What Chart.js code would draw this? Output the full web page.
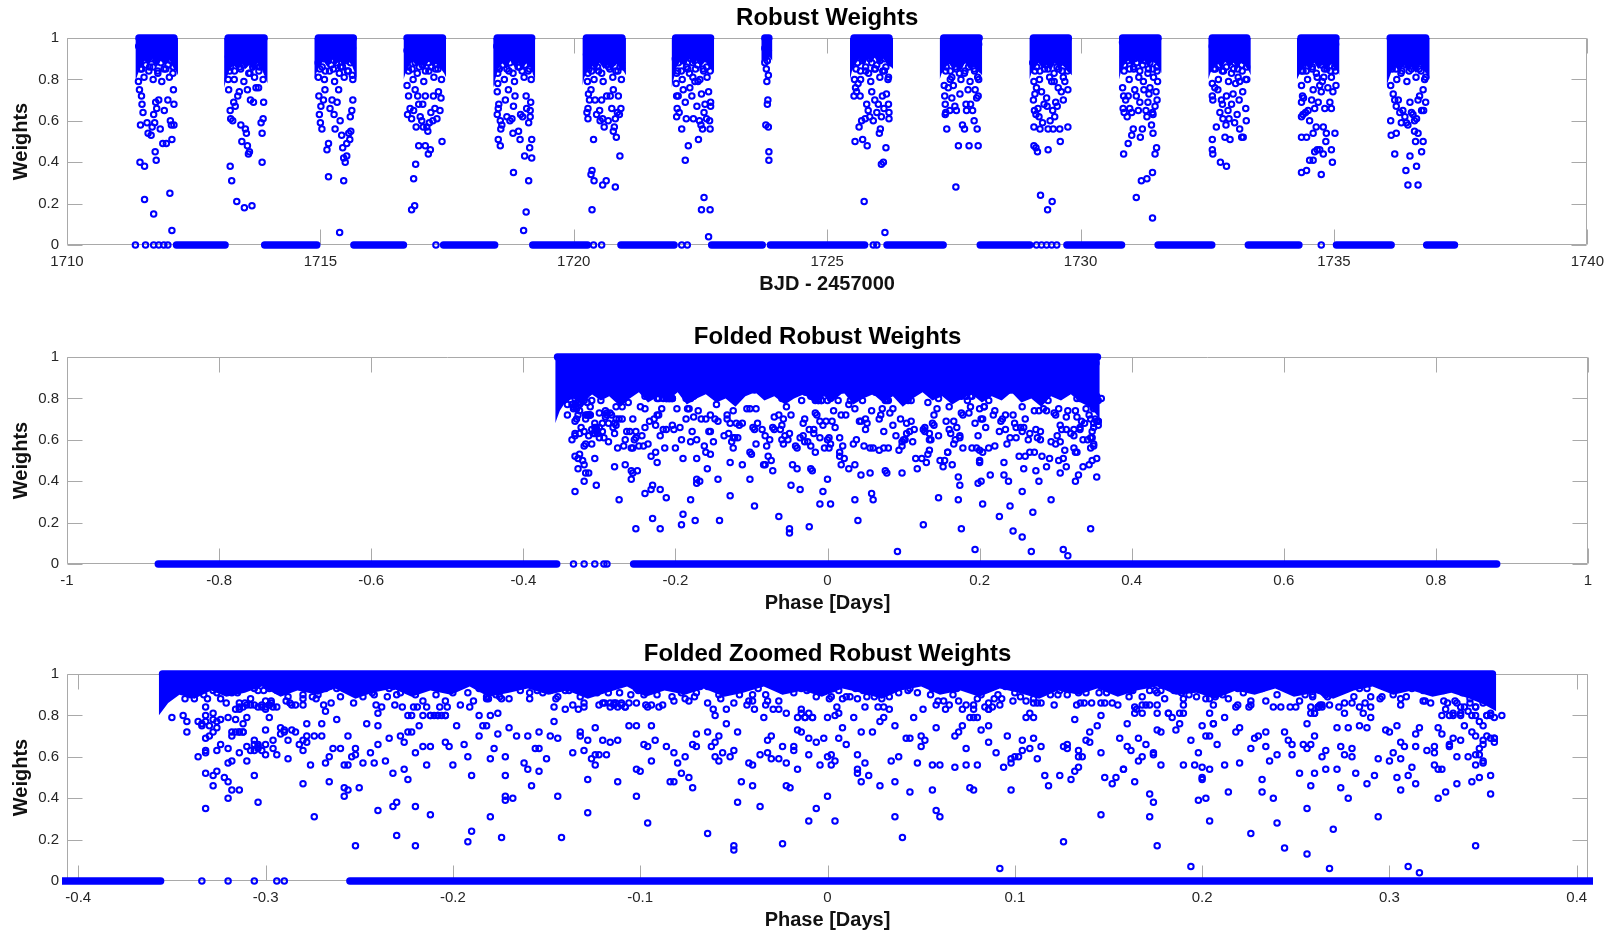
<!DOCTYPE html>
<html><head><meta charset="utf-8">
<script src="https://cdn.jsdelivr.net/npm/chart.js@4/dist/chart.umd.min.js"></script>
<style>
html,body{margin:0;padding:0;background:#fff;overflow:hidden;width:1612px;height:935px}
canvas{position:absolute;left:0}
</style></head><body>
<canvas id="c1" width="1612" height="299" style="top:0px"></canvas>
<canvas id="c2" width="1612" height="299" style="top:319px"></canvas>
<canvas id="c3" width="1612" height="299" style="top:636px"></canvas>
<script>
// ---------- DATA ----------
// Robust weights per transit window: [BJD-2457000, weight]
const k00 = [[1711.415,.96],[1711.436,.88],[1711.454,.93],[1711.476,.85],[1711.495,.98],[1711.517,.91],[1711.534,.95],[1711.556,.87],[1711.575,.97],[1711.596,.92],[1711.614,.84],[1711.637,.96],[1711.655,.90],[1711.674,.94],[1711.696,.86],[1711.713,.98],[1711.736,.92],[1711.754,.89],[1711.776,.96],[1711.793,.83],[1711.816,.93],[1711.835,.97],[1711.853,.88],[1711.876,.94],[1711.894,.91],[1711.915,.85],[1711.936,.97],[1711.953,.90],[1711.975,.95],[1711.994,.87],[1712.016,.93],[1712.034,.98],[1712.056,.89],[1712.074,.94],[1712.096,.86],
[1711.45,.85],[1711.52,.81],[1711.63,.86],[1711.70,.80],[1711.79,.84],[1711.87,.79],[1711.95,.85],[1712.02,.81],[1712.09,.83],
[1711.41,.79],[1711.43,.75],[1711.47,.72],[1711.48,.68],[1711.50,.64],[1711.45,.58],[1711.58,.59],[1711.60,.54],[1711.66,.53],[1711.68,.57],[1711.71,.63],[1711.73,.59],[1711.75,.69],[1711.77,.66],[1711.81,.70],[1711.84,.56],[1711.89,.49],[1711.92,.65],[1711.96,.49],[1711.99,.70],[1712.04,.60],[1712.06,.58],[1712.07,.51],[1712.10,.75],[1712.11,.68],[1712.11,.58],[1711.44,.40],[1711.53,.38],[1711.53,.22],[1711.71,.15],[1711.74,.45],[1711.76,.41],[1712.03,.25],[1712.07,.07]];
const k01 = [[1713.186,.91],[1713.205,.97],[1713.227,.86],[1713.246,.94],[1713.264,.89],[1713.287,.98],[1713.305,.84],[1713.324,.93],[1713.347,.96],[1713.365,.88],[1713.386,.92],[1713.404,.97],[1713.427,.85],[1713.445,.95],[1713.466,.90],[1713.484,.87],[1713.506,.98],[1713.527,.93],[1713.545,.89],[1713.564,.96],[1713.587,.83],[1713.605,.94],[1713.624,.91],[1713.646,.97],[1713.665,.86],[1713.687,.92],[1713.704,.95],[1713.726,.88],[1713.745,.98],[1713.764,.90],[1713.786,.84],[1713.805,.96],[1713.825,.93],[1713.843,.87],[1713.866,.97],
[1713.21,.84],[1713.30,.80],[1713.41,.86],[1713.49,.79],[1713.61,.83],[1713.70,.81],[1713.80,.86],[1713.87,.80],
[1713.18,.80],[1713.19,.75],[1713.22,.65],[1713.23,.61],[1713.27,.60],[1713.29,.69],[1713.32,.67],[1713.37,.72],[1713.40,.74],[1713.43,.58],[1713.45,.50],[1713.52,.56],[1713.54,.54],[1713.56,.48],[1713.58,.44],[1713.60,.45],[1713.56,.75],[1713.62,.70],[1713.68,.69],[1713.73,.76],[1713.78,.76],[1713.83,.59],[1713.87,.61],[1713.88,.69],[1713.85,.40],[1713.85,.54],[1713.22,.38],[1713.25,.31],[1713.35,.21],[1713.50,.18],[1713.65,.19]];
const k02 = [[1714.957,.88],[1714.978,.95],[1714.996,.92],[1715.017,.98],[1715.035,.86],[1715.058,.90],[1715.076,.97],[1715.097,.84],[1715.115,.93],[1715.138,.96],[1715.156,.89],[1715.177,.91],[1715.196,.98],[1715.214,.87],[1715.237,.94],[1715.255,.85],[1715.276,.96],[1715.294,.92],[1715.317,.88],[1715.336,.97],[1715.355,.90],[1715.374,.83],[1715.397,.95],[1715.415,.93],[1715.436,.86],[1715.454,.98],[1715.477,.91],[1715.495,.89],[1715.516,.96],[1715.535,.84],[1715.557,.94],[1715.576,.97],[1715.594,.88],[1715.617,.92],[1715.635,.95],
[1714.99,.85],[1715.08,.80],[1715.18,.84],[1715.28,.79],[1715.40,.86],[1715.47,.81],[1715.55,.84],[1715.63,.82],
[1714.96,.81],[1714.97,.72],[1714.98,.63],[1715.00,.59],[1715.01,.67],[1715.03,.56],[1715.06,.70],[1715.09,.75],[1715.13,.46],[1715.16,.49],[1715.16,.33],[1715.19,.66],[1715.23,.70],[1715.27,.63],[1715.29,.56],[1715.33,.69],[1715.36,.75],[1715.39,.60],[1715.42,.53],[1715.44,.47],[1715.46,.42],[1715.49,.40],[1715.52,.43],[1715.52,.49],[1715.56,.54],[1715.58,.51],[1715.60,.55],[1715.62,.65],[1715.64,.70],[1715.64,.80],[1715.46,.31],[1715.38,.06],[1715.59,.62]];
const k03 = [[1716.710,.94],[1716.731,.86],[1716.749,.98],[1716.772,.90],[1716.790,.93],[1716.811,.85],[1716.829,.96],[1716.852,.91],[1716.870,.88],[1716.889,.97],[1716.912,.83],[1716.930,.95],[1716.951,.92],[1716.969,.89],[1716.992,.98],[1717.010,.87],[1717.031,.93],[1717.049,.96],[1717.072,.84],[1717.090,.91],[1717.109,.97],[1717.132,.88],[1717.150,.94],[1717.171,.90],[1717.189,.86],[1717.212,.98],[1717.230,.92],[1717.249,.95],[1717.271,.85],[1717.290,.97],[1717.311,.89],[1717.329,.93],[1717.352,.96],[1717.370,.87],[1717.391,.91],
[1716.74,.84],[1716.83,.80],[1716.95,.86],[1717.04,.79],[1717.14,.84],[1717.24,.81],[1717.32,.85],[1717.39,.80],
[1716.71,.77],[1716.74,.72],[1716.77,.66],[1716.72,.63],[1716.80,.61],[1716.84,.65],[1716.87,.75],[1716.89,.57],[1716.92,.72],[1716.94,.68],[1716.97,.62],[1717.00,.60],[1717.02,.68],[1717.03,.57],[1717.07,.72],[1717.10,.57],[1717.12,.55],[1717.15,.59],[1717.18,.64],[1717.22,.60],[1717.23,.72],[1717.26,.66],[1717.30,.61],[1717.33,.74],[1717.36,.65],[1717.38,.71],[1717.40,.50],[1716.94,.48],[1717.07,.48],[1717.17,.46],[1717.13,.44],[1716.88,.39],[1716.84,.32],[1716.80,.17],[1716.86,.19]];
const k04 = [[1718.481,.96],[1718.502,.86],[1718.520,.94],[1718.541,.89],[1718.559,.98],[1718.582,.93],[1718.600,.87],[1718.621,.95],[1718.639,.90],[1718.662,.97],[1718.680,.85],[1718.699,.91],[1718.722,.94],[1718.740,.88],[1718.761,.97],[1718.779,.93],[1718.802,.83],[1718.820,.96],[1718.841,.89],[1718.859,.92],[1718.880,.98],[1718.902,.86],[1718.920,.94],[1718.939,.90],[1718.962,.96],[1718.980,.84],[1719.001,.92],[1719.019,.97],[1719.042,.87],[1719.060,.95],[1719.081,.91],[1719.099,.98],[1719.122,.85],[1719.140,.93],[1719.159,.88],
[1718.53,.85],[1718.63,.80],[1718.72,.84],[1718.83,.79],[1718.93,.86],[1719.02,.81],[1719.10,.84],[1719.16,.80],
[1718.50,.83],[1718.50,.78],[1718.49,.74],[1718.51,.66],[1718.49,.63],[1718.52,.68],[1718.55,.60],[1718.56,.56],[1718.58,.58],[1718.51,.51],[1718.55,.48],[1718.65,.70],[1718.68,.62],[1718.71,.75],[1718.74,.60],[1718.78,.61],[1718.80,.54],[1718.81,.67],[1718.84,.72],[1718.91,.55],[1718.94,.51],[1718.95,.63],[1718.99,.62],[1719.03,.43],[1719.06,.72],[1719.07,.66],[1719.11,.59],[1719.13,.47],[1719.14,.62],[1719.15,.69],[1719.17,.51],[1719.17,.42],[1718.81,.35],[1719.11,.31],[1719.06,.16],[1719.01,.07],[1719.14,.65]];
const k05 = [[1720.252,.92],[1720.273,.97],[1720.291,.87],[1720.312,.93],[1720.330,.96],[1720.353,.84],[1720.371,.90],[1720.392,.98],[1720.410,.88],[1720.431,.95],[1720.452,.92],[1720.470,.86],[1720.491,.97],[1720.510,.91],[1720.533,.94],[1720.551,.83],[1720.572,.96],[1720.590,.89],[1720.611,.93],[1720.632,.98],[1720.650,.87],[1720.671,.90],[1720.690,.95],[1720.713,.85],[1720.731,.97],[1720.752,.92],[1720.770,.88],[1720.791,.96],[1720.812,.93],[1720.830,.84],[1720.851,.98],[1720.870,.89],[1720.893,.94],[1720.911,.86],[1720.932,.97],
[1720.30,.85],[1720.40,.80],[1720.49,.84],[1720.58,.79],[1720.69,.86],[1720.77,.81],[1720.87,.84],[1720.94,.80],
[1720.28,.83],[1720.27,.79],[1720.29,.73],[1720.31,.70],[1720.28,.66],[1720.26,.64],[1720.28,.61],[1720.34,.75],[1720.39,.51],[1720.42,.70],[1720.45,.63],[1720.51,.65],[1720.52,.60],[1720.55,.70],[1720.57,.61],[1720.60,.57],[1720.65,.72],[1720.68,.60],[1720.72,.72],[1720.75,.66],[1720.78,.55],[1720.80,.57],[1720.82,.61],[1720.84,.52],[1720.86,.64],[1720.88,.72],[1720.90,.63],[1720.93,.66],[1720.91,.43],[1720.36,.36],[1720.34,.34],[1720.40,.31],[1720.57,.29],[1720.64,.31],[1720.82,.28],[1720.36,.17],[1720.78,.75]];
const k06 = [[1722.004,.90],[1722.025,.95],[1722.043,.92],[1722.064,.88],[1722.082,.97],[1722.105,.94],[1722.123,.84],[1722.144,.96],[1722.162,.89],[1722.185,.91],[1722.203,.98],[1722.224,.86],[1722.242,.93],[1722.265,.95],[1722.283,.83],[1722.304,.90],[1722.322,.97],[1722.345,.88],[1722.363,.92],[1722.384,.96],[1722.402,.85],[1722.425,.94],[1722.443,.87],[1722.464,.98],[1722.482,.91],[1722.505,.89],[1722.523,.96],[1722.544,.93],[1722.562,.84],[1722.585,.97],[1722.603,.90],[1722.624,.86],[1722.642,.98],[1722.665,.92],[1722.683,.95],
[1722.05,.84],[1722.14,.80],[1722.25,.85],[1722.35,.81],[1722.45,.79],[1722.55,.85],[1722.63,.81],[1722.69,.84],
[1722.03,.83],[1722.02,.78],[1722.03,.72],[1722.04,.66],[1722.03,.62],[1722.06,.72],[1722.08,.64],[1722.13,.56],[1722.16,.75],[1722.20,.69],[1722.22,.61],[1722.26,.48],[1722.29,.76],[1722.33,.72],[1722.36,.61],[1722.39,.79],[1722.43,.67],[1722.46,.51],[1722.48,.60],[1722.49,.80],[1722.51,.58],[1722.52,.73],[1722.54,.56],[1722.57,.64],[1722.59,.68],[1722.62,.61],[1722.66,.74],[1722.68,.60],[1722.69,.56],[1722.70,.67],[1722.70,.69],[1722.20,.41],[1722.57,.23],[1722.52,.17],[1722.69,.17],[1722.66,.04]];
const k07 = [[1723.79,.99],[1723.81,.97],[1723.77,.95],[1723.84,.94],[1723.81,.93],[1723.79,.91],[1723.82,.89],[1723.77,.88],[1723.80,.85],[1723.84,.82],[1723.81,.79],[1723.83,.70],[1723.82,.68],[1723.79,.58],[1723.84,.57],[1723.85,.45],[1723.85,.41]];
const k08 = [[1725.539,.90],[1725.560,.95],[1725.578,.92],[1725.599,.88],[1725.617,.97],[1725.640,.94],[1725.658,.84],[1725.679,.96],[1725.697,.89],[1725.720,.91],[1725.738,.98],[1725.759,.86],[1725.777,.93],[1725.800,.95],[1725.818,.83],[1725.839,.90],[1725.857,.97],[1725.880,.88],[1725.898,.92],[1725.919,.96],[1725.937,.85],[1725.960,.94],[1725.978,.87],[1725.999,.98],[1726.017,.91],[1726.040,.89],[1726.058,.96],[1726.079,.93],[1726.097,.84],[1726.120,.97],[1726.138,.90],[1726.159,.86],[1726.177,.98],[1726.200,.92],[1726.218,.95],
[1725.57,.85],[1725.66,.80],[1725.76,.84],[1725.86,.79],[1725.95,.85],[1726.04,.81],[1726.13,.84],[1726.20,.80],
[1725.54,.80],[1725.53,.72],[1725.56,.76],[1725.58,.74],[1725.61,.78],[1725.65,.72],[1725.68,.60],[1725.63,.57],[1725.55,.50],[1725.70,.51],[1725.79,.48],[1725.75,.61],[1725.78,.68],[1725.81,.65],[1725.84,.62],[1725.88,.74],[1725.91,.60],[1725.94,.70],[1725.98,.64],[1726.01,.68],[1726.03,.54],[1726.05,.56],[1726.07,.62],[1726.09,.72],[1726.12,.66],[1726.16,.47],[1726.17,.73],[1726.21,.68],[1726.22,.64],[1726.22,.61],[1726.21,.81],[1726.07,.39],[1726.11,.40],[1725.73,.21],[1726.14,.06]];
const k09 = [[1727.310,.91],[1727.331,.97],[1727.349,.86],[1727.370,.94],[1727.388,.89],[1727.411,.98],[1727.429,.84],[1727.450,.93],[1727.468,.96],[1727.491,.88],[1727.509,.92],[1727.530,.97],[1727.548,.85],[1727.571,.95],[1727.589,.90],[1727.610,.87],[1727.628,.98],[1727.651,.93],[1727.669,.89],[1727.690,.96],[1727.708,.83],[1727.731,.94],[1727.749,.91],[1727.770,.97],[1727.788,.86],[1727.811,.92],[1727.829,.95],[1727.850,.88],[1727.868,.98],[1727.891,.90],[1727.909,.84],[1727.930,.96],[1727.948,.93],[1727.971,.87],[1727.989,.97],
[1727.34,.84],[1727.43,.80],[1727.53,.86],[1727.64,.80],[1727.72,.84],[1727.82,.79],[1727.90,.85],[1727.97,.81],
[1727.31,.77],[1727.32,.72],[1727.33,.68],[1727.34,.64],[1727.33,.63],[1727.36,.56],[1727.39,.76],[1727.42,.65],[1727.46,.71],[1727.49,.77],[1727.52,.67],[1727.55,.65],[1727.54,.28],[1727.59,.48],[1727.62,.73],[1727.67,.58],[1727.71,.56],[1727.74,.68],[1727.75,.65],[1727.78,.75],[1727.80,.48],[1727.83,.68],[1727.87,.65],[1727.90,.60],[1727.92,.75],[1727.95,.71],[1727.96,.56],[1727.98,.72],[1727.98,.48],[1727.99,.80],[1727.61,.83],[1727.46,.81]];
const k10 = [[1729.057,.88],[1729.078,.95],[1729.096,.92],[1729.117,.98],[1729.135,.86],[1729.158,.90],[1729.176,.97],[1729.197,.84],[1729.215,.93],[1729.238,.96],[1729.256,.89],[1729.277,.91],[1729.295,.98],[1729.318,.87],[1729.336,.94],[1729.357,.85],[1729.375,.96],[1729.398,.92],[1729.416,.88],[1729.437,.97],[1729.455,.90],[1729.478,.83],[1729.496,.95],[1729.517,.93],[1729.535,.86],[1729.558,.98],[1729.576,.91],[1729.597,.89],[1729.615,.96],[1729.638,.84],[1729.656,.94],[1729.677,.97],[1729.695,.88],[1729.718,.92],[1729.736,.95],
[1729.10,.84],[1729.19,.80],[1729.29,.85],[1729.39,.81],[1729.48,.79],[1729.57,.85],[1729.66,.81],[1729.74,.84],
[1729.08,.79],[1729.07,.70],[1729.10,.73],[1729.13,.76],[1729.09,.65],[1729.12,.63],[1729.16,.66],[1729.08,.57],[1729.18,.62],[1729.20,.56],[1729.23,.74],[1729.25,.59],[1729.28,.68],[1729.33,.71],[1729.34,.67],[1729.36,.56],[1729.40,.60],[1729.43,.79],[1729.45,.65],[1729.46,.56],[1729.49,.62],[1729.51,.69],[1729.54,.67],[1729.56,.76],[1729.59,.56],[1729.60,.50],[1729.62,.74],[1729.66,.70],[1729.69,.79],[1729.75,.57],[1729.75,.75],[1729.08,.48],[1729.12,.47],[1729.15,.45],[1729.36,.46],[1729.21,.24],[1729.35,.17],[1729.44,.21]];
const k11 = [[1730.828,.98],[1730.849,.91],[1730.867,.87],[1730.888,.96],[1730.906,.93],[1730.929,.89],[1730.947,.97],[1730.968,.85],[1730.986,.95],[1731.009,.92],[1731.027,.98],[1731.048,.86],[1731.066,.90],[1731.089,.94],[1731.107,.88],[1731.128,.97],[1731.146,.91],[1731.169,.84],[1731.187,.96],[1731.208,.93],[1731.226,.87],[1731.249,.98],[1731.267,.89],[1731.288,.92],[1731.306,.95],[1731.329,.83],[1731.347,.97],[1731.368,.88],[1731.386,.91],[1731.409,.96],[1731.427,.85],[1731.448,.93],[1731.466,.90],[1731.489,.98],[1731.507,.86],
[1730.86,.84],[1730.96,.80],[1731.05,.85],[1731.15,.81],[1731.24,.79],[1731.34,.85],[1731.44,.81],[1731.51,.84],
[1730.83,.76],[1730.85,.72],[1730.84,.66],[1730.86,.64],[1730.89,.70],[1730.92,.62],[1730.94,.72],[1730.97,.66],[1731.01,.64],[1731.04,.56],[1731.07,.75],[1731.10,.72],[1731.14,.65],[1731.17,.69],[1731.18,.52],[1731.22,.56],[1731.25,.75],[1731.29,.65],[1731.31,.62],[1731.33,.69],[1731.35,.73],[1731.37,.76],[1731.40,.58],[1731.42,.64],[1731.43,.54],[1731.47,.67],[1731.50,.47],[1731.49,.74],[1731.51,.70],[1731.52,.79],[1731.43,.63],[1730.85,.44],[1730.94,.49],[1731.01,.53],[1731.10,.23],[1731.20,.31],[1731.31,.32],[1731.42,.35],[1731.42,.13],[1731.47,.44]];
const k12 = [[1732.599,.96],[1732.620,.88],[1732.638,.93],[1732.659,.85],[1732.677,.98],[1732.700,.91],[1732.718,.95],[1732.739,.87],[1732.757,.97],[1732.780,.92],[1732.798,.84],[1732.819,.96],[1732.837,.90],[1732.860,.94],[1732.878,.86],[1732.899,.98],[1732.917,.92],[1732.940,.89],[1732.958,.96],[1732.979,.83],[1732.997,.93],[1733.020,.97],[1733.038,.88],[1733.059,.94],[1733.077,.91],[1733.100,.85],[1733.118,.97],[1733.139,.90],[1733.157,.95],[1733.180,.87],[1733.198,.93],[1733.219,.98],[1733.237,.89],[1733.260,.94],[1733.278,.86],
[1732.63,.85],[1732.72,.80],[1732.82,.84],[1732.92,.79],[1733.02,.85],[1733.11,.81],[1733.19,.84],[1733.26,.80],
[1732.60,.78],[1732.60,.72],[1732.61,.70],[1732.65,.76],[1732.68,.57],[1732.71,.75],[1732.75,.64],[1732.78,.70],[1732.80,.68],[1732.81,.61],[1732.85,.52],[1732.87,.58],[1732.88,.72],[1732.91,.65],[1732.93,.61],[1732.95,.51],[1732.98,.68],[1733.01,.73],[1733.04,.59],[1733.06,.78],[1733.09,.63],[1733.13,.70],[1733.14,.56],[1733.18,.52],[1733.20,.74],[1733.21,.52],[1733.26,.66],[1733.27,.60],[1733.28,.80],[1732.60,.51],[1732.60,.46],[1732.61,.44],[1732.76,.40],[1732.88,.38],[1733.14,.79]];
const k13 = [[1734.353,.92],[1734.374,.97],[1734.392,.87],[1734.413,.93],[1734.431,.96],[1734.454,.84],[1734.472,.90],[1734.493,.98],[1734.511,.88],[1734.534,.95],[1734.552,.92],[1734.573,.86],[1734.591,.97],[1734.614,.91],[1734.632,.94],[1734.653,.83],[1734.671,.96],[1734.694,.89],[1734.712,.93],[1734.733,.98],[1734.751,.87],[1734.774,.90],[1734.792,.95],[1734.813,.85],[1734.831,.97],[1734.854,.92],[1734.872,.88],[1734.893,.96],[1734.911,.93],[1734.934,.84],[1734.952,.98],[1734.973,.89],[1734.991,.94],[1735.014,.86],[1735.032,.97],
[1734.39,.84],[1734.48,.80],[1734.57,.85],[1734.67,.81],[1734.77,.79],[1734.86,.85],[1734.95,.81],[1735.03,.84],
[1734.36,.84],[1734.36,.77],[1734.38,.72],[1734.36,.69],[1734.39,.63],[1734.36,.62],[1734.40,.71],[1734.44,.64],[1734.49,.65],[1734.52,.60],[1734.56,.70],[1734.59,.75],[1734.62,.66],[1734.65,.57],[1734.69,.69],[1734.72,.77],[1734.75,.74],[1734.79,.57],[1734.80,.81],[1734.82,.66],[1734.85,.54],[1734.88,.76],[1734.92,.69],[1734.95,.66],[1734.98,.74],[1735.02,.54],[1735.04,.77],[1734.36,.52],[1734.46,.52],[1734.59,.54],[1734.62,.45],[1734.67,.46],[1734.72,.46],[1734.79,.44],[1734.84,.50],[1734.95,.46],[1734.97,.40],[1734.52,.41],[1734.59,.41],[1734.36,.35],[1734.46,.36],[1734.75,.34]];
const k14 = [[1736.124,.94],[1736.145,.86],[1736.163,.98],[1736.184,.90],[1736.202,.93],[1736.225,.85],[1736.243,.96],[1736.264,.91],[1736.282,.88],[1736.305,.97],[1736.323,.83],[1736.344,.95],[1736.362,.92],[1736.385,.89],[1736.403,.98],[1736.424,.87],[1736.442,.93],[1736.465,.96],[1736.483,.84],[1736.504,.91],[1736.522,.97],[1736.545,.88],[1736.563,.94],[1736.584,.90],[1736.602,.86],[1736.625,.98],[1736.643,.92],[1736.664,.95],[1736.682,.85],[1736.705,.97],[1736.723,.89],[1736.744,.93],[1736.762,.96],[1736.785,.87],[1736.803,.91],
[1736.15,.85],[1736.24,.80],[1736.34,.84],[1736.44,.79],[1736.53,.85],[1736.62,.81],[1736.72,.84],[1736.79,.80],
[1736.12,.77],[1736.17,.73],[1736.20,.70],[1736.23,.67],[1736.27,.70],[1736.30,.64],[1736.33,.59],[1736.36,.65],[1736.40,.62],[1736.43,.59],[1736.46,.58],[1736.50,.69],[1736.53,.64],[1736.56,.63],[1736.59,.60],[1736.63,.61],[1736.66,.70],[1736.69,.72],[1736.73,.65],[1736.76,.75],[1736.77,.65],[1736.81,.69],[1736.81,.81],[1736.12,.60],[1736.13,.53],[1736.23,.54],[1736.20,.44],[1736.50,.43],[1736.59,.55],[1736.61,.50],[1736.66,.54],[1736.73,.45],[1736.76,.50],[1736.42,.36],[1736.63,.38],[1736.46,.29],[1736.66,.29]];

// Lower edge of the saturated (overplotted) core of each window: [BJD-2457000, weight]
const coreEdges = [
 [[1711.35,.79],[1711.39,.82],[1711.45,.86],[1711.53,.89],[1711.61,.87],[1711.69,.90],[1711.77,.86],[1711.85,.89],[1711.93,.87],[1712.01,.90],[1712.09,.86],[1712.15,.84],[1712.19,.82]],
 [[1713.10,.76],[1713.14,.80],[1713.20,.84],[1713.28,.87],[1713.36,.85],[1713.44,.88],[1713.52,.85],[1713.60,.87],[1713.68,.84],[1713.76,.88],[1713.84,.85],[1713.91,.81],[1713.96,.78]],
 [[1714.88,.80],[1714.92,.83],[1714.98,.87],[1715.06,.89],[1715.14,.86],[1715.22,.90],[1715.30,.87],[1715.38,.89],[1715.46,.86],[1715.54,.89],[1715.62,.87],[1715.68,.83],[1715.72,.80]],
 [[1716.64,.80],[1716.68,.83],[1716.74,.86],[1716.82,.89],[1716.90,.86],[1716.98,.88],[1717.06,.85],[1717.14,.89],[1717.22,.86],[1717.30,.88],[1717.38,.85],[1717.44,.83],[1717.48,.81]],
 [[1718.41,.76],[1718.45,.80],[1718.51,.85],[1718.59,.88],[1718.67,.85],[1718.75,.89],[1718.83,.86],[1718.91,.88],[1718.99,.85],[1719.07,.88],[1719.15,.86],[1719.20,.82],[1719.24,.80]],
 [[1720.17,.77],[1720.21,.81],[1720.27,.84],[1720.35,.87],[1720.43,.84],[1720.51,.88],[1720.59,.85],[1720.67,.87],[1720.75,.84],[1720.83,.88],[1720.91,.85],[1720.98,.84],[1721.03,.82]],
 [[1721.93,.76],[1721.97,.80],[1722.03,.86],[1722.11,.89],[1722.19,.86],[1722.27,.90],[1722.35,.87],[1722.43,.89],[1722.51,.86],[1722.59,.89],[1722.67,.86],[1722.73,.85],[1722.77,.83]],
 [[1723.70,.88],[1723.76,.90],[1723.81,.89],[1723.86,.91],[1723.92,.89]],
 [[1725.45,.80],[1725.49,.84],[1725.55,.87],[1725.63,.90],[1725.71,.87],[1725.79,.90],[1725.87,.88],[1725.95,.91],[1726.03,.87],[1726.11,.90],[1726.19,.87],[1726.26,.86],[1726.30,.85]],
 [[1727.22,.80],[1727.26,.83],[1727.32,.85],[1727.40,.88],[1727.48,.85],[1727.56,.87],[1727.64,.84],[1727.72,.88],[1727.80,.85],[1727.88,.87],[1727.96,.84],[1728.02,.83],[1728.06,.82]],
 [[1728.99,.80],[1729.03,.83],[1729.09,.85],[1729.17,.88],[1729.25,.85],[1729.33,.87],[1729.41,.84],[1729.49,.88],[1729.57,.85],[1729.65,.87],[1729.73,.84],[1729.79,.83],[1729.83,.82]],
 [[1730.76,.80],[1730.80,.84],[1730.86,.87],[1730.94,.89],[1731.02,.86],[1731.10,.90],[1731.18,.87],[1731.26,.89],[1731.34,.86],[1731.42,.89],[1731.50,.87],[1731.56,.85],[1731.60,.83]],
 [[1732.52,.80],[1732.56,.83],[1732.62,.86],[1732.70,.88],[1732.78,.85],[1732.86,.89],[1732.94,.86],[1733.02,.88],[1733.10,.85],[1733.18,.89],[1733.26,.86],[1733.32,.84],[1733.36,.82]],
 [[1734.27,.80],[1734.31,.82],[1734.37,.85],[1734.45,.87],[1734.53,.84],[1734.61,.88],[1734.69,.85],[1734.77,.87],[1734.85,.84],[1734.93,.88],[1735.01,.85],[1735.07,.84],[1735.11,.82]],
 [[1736.04,.77],[1736.08,.80],[1736.14,.84],[1736.22,.86],[1736.30,.83],[1736.38,.87],[1736.46,.84],[1736.54,.86],[1736.62,.83],[1736.70,.87],[1736.78,.84],[1736.85,.82],[1736.89,.80]]
];

// Runs of weight = 1 (top of each window) and weight = 0 (out of window)
const oneRuns = [[1711.42,1712.11],[1713.18,1713.89],[1714.96,1715.65],[1716.71,1717.41],[1718.49,1719.17],[1720.25,1720.95],[1722.01,1722.70],[1723.77,1723.85],[1725.53,1726.22],[1727.30,1728.00],[1729.07,1729.76],[1730.83,1731.53],[1732.60,1733.28],[1734.35,1735.04],[1736.11,1736.81]];
const zeroRuns = [[1712.16,1713.12],[1713.90,1714.93],[1715.66,1716.64],[1717.43,1718.44],[1719.19,1720.27],[1720.93,1721.98],[1722.72,1723.72],[1723.88,1725.74],[1726.18,1727.29],[1728.02,1729.00],[1729.73,1730.81],[1731.53,1732.59],[1733.31,1734.31],[1735.05,1736.13],[1736.83,1737.38]];
const zeroSingles = [1711.35,1711.55,1711.71,1711.81,1711.91,1711.99,1717.28,1720.39,1720.55,1722.13,1722.24,1725.91,1725.98,1729.13,1729.23,1729.33,1729.43,1729.53,1734.75];

// Folded view
const foldEpoch = 1711.76;
const foldPeriod = 1.764;
const foldOneRuns = [[-0.355,0.355]];
const foldZeroRuns = [[-0.88,-0.356],[-0.255,0.88]];
const foldZeroSingles = [-0.334,-0.320,-0.306,-0.294,-0.290];
// lower edge of the saturated core in the folded panels: [phase, weight]
const foldCoreEdgeWide = [[-0.358,.68],[-0.352,.74],[-0.345,.78],[-0.335,.80],[-0.322,.77],[-0.31,.82],[-0.298,.79],[-0.287,.81],[-0.272,.76],[-0.26,.80],[-0.248,.83],[-0.236,.78],[-0.222,.81],[-0.21,.79],[-0.197,.83],[-0.185,.77],[-0.172,.80],[-0.16,.82],[-0.146,.78],[-0.134,.80],[-0.121,.76],[-0.108,.81],[-0.095,.83],[-0.083,.79],[-0.07,.81],[-0.056,.77],[-0.044,.80],[-0.031,.82],[-0.018,.78],[-0.005,.81],[0.008,.79],[0.021,.83],[0.034,.77],[0.047,.80],[0.06,.82],[0.073,.78],[0.086,.81],[0.099,.76],[0.112,.80],[0.125,.83],[0.138,.79],[0.151,.81],[0.164,.77],[0.177,.80],[0.19,.82],[0.203,.78],[0.216,.81],[0.229,.79],[0.242,.83],[0.255,.78],[0.268,.80],[0.281,.76],[0.294,.81],[0.307,.79],[0.32,.82],[0.333,.78],[0.344,.76],[0.352,.73],[0.358,.70]];
const foldCoreEdgeZoom = [[-0.357,.80],[-0.352,.86],[-0.346,.90],[-0.338,.88],[-0.329,.92],[-0.321,.89],[-0.311,.91],[-0.302,.94],[-0.292,.89],[-0.283,.92],[-0.272,.90],[-0.263,.93],[-0.252,.88],[-0.243,.91],[-0.232,.93],[-0.222,.89],[-0.212,.92],[-0.201,.90],[-0.191,.94],[-0.181,.89],[-0.17,.91],[-0.16,.93],[-0.149,.90],[-0.139,.92],[-0.128,.88],[-0.118,.91],[-0.107,.94],[-0.097,.89],[-0.087,.92],[-0.076,.90],[-0.066,.93],[-0.055,.89],[-0.045,.91],[-0.034,.94],[-0.024,.90],[-0.013,.92],[-0.003,.89],[0.008,.93],[0.018,.91],[0.029,.88],[0.039,.92],[0.05,.94],[0.06,.90],[0.071,.92],[0.081,.89],[0.092,.93],[0.102,.91],[0.113,.88],[0.123,.92],[0.134,.90],[0.144,.93],[0.155,.89],[0.165,.92],[0.176,.94],[0.186,.90],[0.197,.91],[0.207,.88],[0.218,.92],[0.228,.90],[0.239,.93],[0.249,.89],[0.26,.91],[0.27,.88],[0.281,.92],[0.291,.94],[0.302,.90],[0.312,.92],[0.323,.89],[0.333,.91],[0.343,.88],[0.351,.85],[0.357,.82]];

// Axes
const xTicks1 = [1710,1715,1720,1725,1730,1735,1740];
const xLabels1 = ['1710','1715','1720','1725','1730','1735','1740'];
const xTicks2 = [-1,-0.8,-0.6,-0.4,-0.2,0,0.2,0.4,0.6,0.8,1];
const xLabels2 = ['-1','-0.8','-0.6','-0.4','-0.2','0','0.2','0.4','0.6','0.8','1'];
const xTicks3 = [-0.4,-0.3,-0.2,-0.1,0,0.1,0.2,0.3,0.4];
const xLabels3 = ['-0.4','-0.3','-0.2','-0.1','0','0.1','0.2','0.3','0.4'];
const yTicks = [0,0.2,0.4,0.6,0.8,1];
const yLabels = ['0','0.2','0.4','0.6','0.8','1'];

// ---------- CHART BUILDING ----------
const clusters = [k00,k01,k02,k03,k04,k05,k06,k07,k08,k09,k10,k11,k12,k13,k14];
const allPts = clusters.flat();
function phaseOf(t){ const n = Math.round((t - foldEpoch) / foldPeriod); return t - foldEpoch - n * foldPeriod; }

const FF = "'Liberation Sans', Arial, Helvetica, sans-serif";
const BLUE = '#0000ff';
const CLIP = {left:5, right:5, top:5, bottom:5};

function runData(runs, yv){ const d=[]; runs.forEach(([a,b])=>{ d.push({x:a,y:yv},{x:b,y:yv},{x:b,y:null}); }); return d; }
function bandSet(data){ return {type:'line', data, showLine:true, borderColor:BLUE, borderWidth:7.4, borderCapStyle:'round', borderJoinStyle:'round', pointRadius:0, pointHoverRadius:0, fill:false, spanGaps:false, clip:CLIP, tension:0}; }
function ringSet(data){ return {type:'scatter', data, showLine:false, pointStyle:'circle', pointRadius:2.75, pointHoverRadius:2.75, pointBorderWidth:2.0, borderWidth:2.0, pointBackgroundColor:'rgba(0,0,0,0)', backgroundColor:'rgba(0,0,0,0)', pointBorderColor:BLUE, borderColor:BLUE, clip:CLIP}; }
function coreSet(data){ return {type:'line', data, showLine:true, borderWidth:0, borderColor:'rgba(0,0,0,0)', backgroundColor:BLUE, fill:'end', pointRadius:0, pointHoverRadius:0, tension:0, clip:CLIP}; }

const frame = {
  id:'frame',
  beforeDatasetsDraw(chart){
    const {ctx, chartArea:a, scales:{x,y}} = chart;
    const L=Math.round(a.left)+0.5, R=Math.round(a.right)-0.5, T=Math.round(a.top)+0.5, B=Math.round(a.bottom)-0.5;
    ctx.save();
    ctx.strokeStyle='#a9a9a9'; ctx.lineWidth=1;
    ctx.beginPath();
    ctx.rect(L,T,R-L,B-T);
    x.ticks.forEach(t=>{ const p=Math.round(x.getPixelForValue(t.value))+0.5; ctx.moveTo(p,B); ctx.lineTo(p,B-15); ctx.moveTo(p,T); ctx.lineTo(p,T+15); });
    y.ticks.forEach(t=>{ const p=Math.round(y.getPixelForValue(t.value))+0.5; ctx.moveTo(L,p); ctx.lineTo(L+15,p); ctx.moveTo(R,p); ctx.lineTo(R-15,p); });
    ctx.stroke();
    ctx.restore();
  }
};

function makeChart(id, title, xmin, xmax, xt, xl, xTitle, datasets){
  new Chart(document.getElementById(id), {
    type:'scatter',
    data:{datasets},
    plugins:[frame],
    options:{
      responsive:false, animation:false, devicePixelRatio:1, events:[],
      layout:{padding:{top:4.2, left:0, right:24, bottom:3}},
      plugins:{
        legend:{display:false}, tooltip:{enabled:false},
        title:{display:true, fullSize:false, text:title, color:'#000', font:{family:FF, size:24, weight:'bold'}, padding:{top:0, bottom:5}}
      },
      scales:{
        x:{type:'linear', min:xmin, max:xmax,
           afterBuildTicks:s=>{ s.ticks = xt.map(v=>({value:v})); },
           afterFit:s=>{ s.height = 51; },
           grid:{display:false, drawTicks:false}, border:{display:false},
           ticks:{padding:8, color:'#262626', font:{family:FF, size:15}, autoSkip:false, maxRotation:0, minRotation:0, callback:(v,i)=>xl[i]},
           title:{display:true, text:xTitle, color:'#111', font:{family:FF, size:20, weight:'bold'}, padding:{top:0, bottom:0}}},
        y:{type:'linear', min:0, max:1,
           afterBuildTicks:s=>{ s.ticks = yTicks.map(v=>({value:v})); },
           afterFit:s=>{ s.width = 67; },
           grid:{display:false, drawTicks:false}, border:{display:false},
           ticks:{padding:8, color:'#262626', font:{family:FF, size:15}, callback:(v,i)=>yLabels[i]},
           title:{display:true, text:'Weights', color:'#111', font:{family:FF, size:20, weight:'bold'}, padding:{top:9, bottom:0}}}
      }
    }
  });
}

// Panel 1: time series
makeChart('c1','Robust Weights',1710,1740,xTicks1,xLabels1,'BJD - 2457000',[
  ...coreEdges.map(edge=>coreSet(edge.map(([t,w])=>({x:t,y:w})))),
  bandSet(runData(zeroRuns,0)),
  bandSet(runData(oneRuns,1)),
  ringSet(zeroSingles.map(t=>({x:t,y:0}))),
  ringSet(allPts.map(([t,w])=>({x:t,y:w})))
]);

// Folded data (shared by panels 2 and 3)
const foldedPts = allPts.map(([t,w])=>({x:phaseOf(t), y:w}));
function foldedSets(edge){ return [
  coreSet(edge.map(([p,w])=>({x:p,y:w}))),
  bandSet(runData(foldZeroRuns,0)),
  bandSet(runData(foldOneRuns,1)),
  ringSet(foldZeroSingles.map(p=>({x:p,y:0}))),
  ringSet(foldedPts)
]; }
makeChart('c2','Folded Robust Weights',-1,1,xTicks2,xLabels2,'Phase [Days]',foldedSets(foldCoreEdgeWide));
makeChart('c3','Folded Zoomed Robust Weights',-0.406,0.406,xTicks3,xLabels3,'Phase [Days]',foldedSets(foldCoreEdgeZoom));
</script>
</body></html>
